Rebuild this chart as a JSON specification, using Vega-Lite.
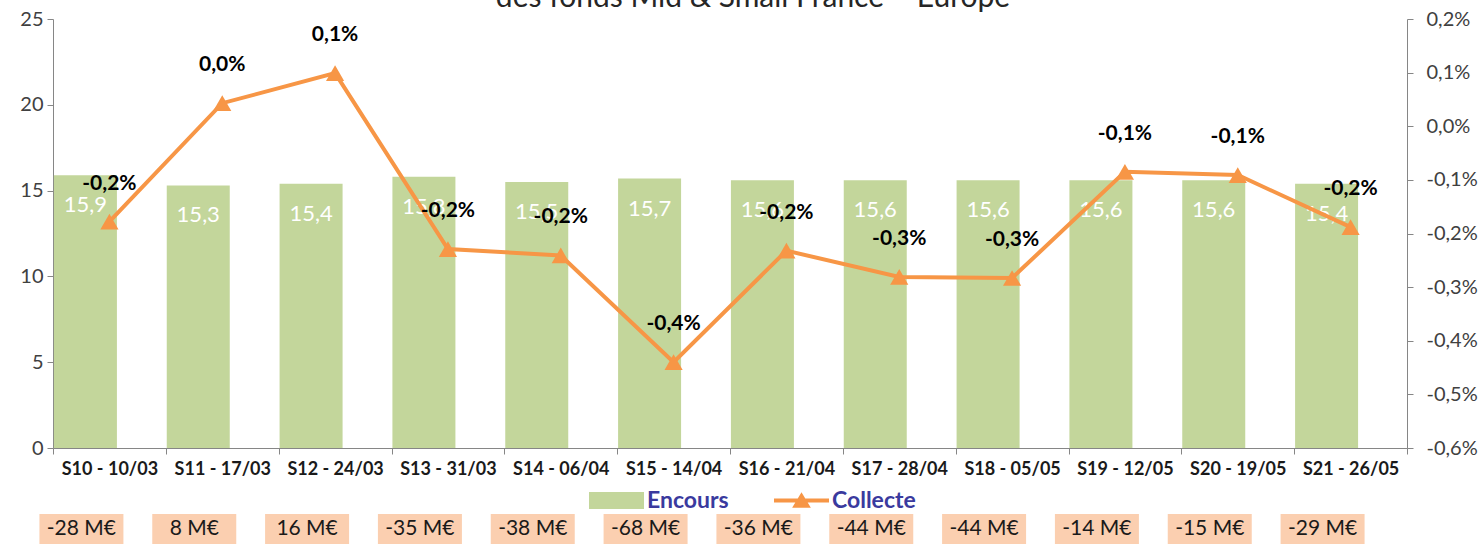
{
  "$schema": "https://vega.github.io/schema/vega-lite/v6.json",
  "autosize": {"type": "pad"},
  "padding": {"left": 19, "top": -17, "right": 0, "bottom": 0},
  "background": "white",
  "bounds": "flush",
  "spacing": 66,
  "config": {
    "locale": {"number": {"decimal": ",", "thousands": " ", "grouping": [3], "currency": ["", " €"], "minus": "-"}},
    "font": "Lato",
    "view": {"stroke": null},
    "axis": {"domainColor": "#868686", "tickColor": "#868686", "labelColor": "#404040", "grid": false, "title": null, "labelFont": "Lato"}
  },
  "title": {"text": "des fonds Mid & Small France – Europe", "frame": "group", "anchor": "middle", "baseline": "alphabetic", "offset": -28, "fontSize": 30, "fontWeight": "normal", "color": "#262626", "dx": 23, "font": "Lato"},
  "datasets": {
    "weeks": [
      {"week": "S10 - 10/03", "encours": 15.9, "collecte": -0.00178, "clab": "-0,2%", "flux": "-28 M€"},
      {"week": "S11 - 17/03", "encours": 15.3, "collecte": 0.00043, "clab": "0,0%", "flux": "8 M€"},
      {"week": "S12 - 24/03", "encours": 15.4, "collecte": 0.00099, "clab": "0,1%", "flux": "16 M€"},
      {"week": "S13 - 31/03", "encours": 15.8, "collecte": -0.00229, "clab": "-0,2%", "flux": "-35 M€"},
      {"week": "S14 - 06/04", "encours": 15.5, "collecte": -0.00241, "clab": "-0,2%", "flux": "-38 M€"},
      {"week": "S15 - 14/04", "encours": 15.7, "collecte": -0.0044, "clab": "-0,4%", "flux": "-68 M€"},
      {"week": "S16 - 21/04", "encours": 15.6, "collecte": -0.00232, "clab": "-0,2%", "flux": "-36 M€"},
      {"week": "S17 - 28/04", "encours": 15.6, "collecte": -0.00281, "clab": "-0,3%", "flux": "-44 M€"},
      {"week": "S18 - 05/05", "encours": 15.6, "collecte": -0.00283, "clab": "-0,3%", "flux": "-44 M€"},
      {"week": "S19 - 12/05", "encours": 15.6, "collecte": -0.00085, "clab": "-0,1%", "flux": "-14 M€"},
      {"week": "S20 - 19/05", "encours": 15.6, "collecte": -0.00091, "clab": "-0,1%", "flux": "-15 M€"},
      {"week": "S21 - 26/05", "encours": 15.4, "collecte": -0.00188, "clab": "-0,2%", "flux": "-29 M€"}
    ]
  },
  "vconcat": [
    {
      "width": 1354,
      "height": 429,
      "data": {"name": "weeks"},
      "resolve": {"scale": {"y": "independent"}},
      "layer": [
        {
          "layer": [
            {
              "mark": {"type": "bar", "width": 63, "xOffset": -24},
              "encoding": {
                "x": {"field": "week", "type": "nominal", "sort": null, "scale": {"paddingInner": 0, "paddingOuter": 0},
                  "axis": {"labelAngle": 0, "labelFontWeight": "bold", "labelFontSize": 18, "labelColor": "#1a1a1a", "tickBand": "extent", "tickSize": 6, "labelPadding": 6}},
                "y": {"field": "encours", "type": "quantitative", "scale": {"domain": [0, 25], "nice": false},
                  "axis": {"orient": "left", "values": [0, 5, 10, 15, 20, 25], "format": "d", "labelFontSize": 20, "tickSize": 6, "labelPadding": 4}},
                "color": {"datum": "Encours", "scale": {"range": ["#C3D69B"]},
                  "legend": {"orient": "none", "legendX": 536, "legendY": 454, "title": null, "symbolType": "M-1,-0.31H1V0.31H-1Z", "symbolSize": 3025, "symbolStrokeWidth": 0, "symbolOpacity": 1, "labelFontSize": 23, "labelFontWeight": "bold", "labelColor": "#3A3A9E", "labelOffset": 3, "padding": 0}}
              }
            },
            {
              "mark": {"type": "text", "color": "white", "fontSize": 22, "dy": 30, "xOffset": -24, "baseline": "middle"},
              "encoding": {
                "x": {"field": "week", "type": "nominal", "sort": null},
                "y": {"field": "encours", "type": "quantitative"},
                "text": {"field": "encours", "type": "quantitative", "format": ".1f"}
              }
            }
          ]
        },
        {
          "layer": [
            {
              "mark": {"type": "line", "color": "#F79646", "strokeWidth": 4},
              "encoding": {
                "x": {"field": "week", "type": "nominal", "sort": null},
                "y": {"field": "collecte", "type": "quantitative", "scale": {"domain": [-0.006, 0.002], "nice": false},
                  "axis": {"orient": "right", "values": [0.002, 0.001, 0, -0.001, -0.002, -0.003, -0.004, -0.005, -0.006], "format": ".1%", "labelFontSize": 20, "tickSize": 6, "labelPadding": 13}}
              }
            },
            {
              "mark": {"type": "point", "shape": "triangle-up", "filled": true, "size": 330, "opacity": 1},
              "encoding": {
                "x": {"field": "week", "type": "nominal", "sort": null},
                "y": {"field": "collecte", "type": "quantitative"},
                "fill": {"datum": "Collecte", "scale": {"range": ["#F79646"]},
                  "legend": {"orient": "none", "legendX": 721, "legendY": 454, "title": null, "symbolType": "M-1,-0.07H1V0.07H-1ZM-0.34,0.26L0,-0.3L0.34,0.26Z", "symbolSize": 3025, "symbolStrokeWidth": 0, "symbolOpacity": 1, "labelFontSize": 23, "labelFontWeight": "bold", "labelColor": "#3A3A9E", "labelOffset": 3, "padding": 0}}
              }
            },
            {
              "mark": {"type": "text", "color": "black", "fontSize": 21, "fontWeight": "bold", "dy": -38, "baseline": "middle"},
              "encoding": {
                "x": {"field": "week", "type": "nominal", "sort": null},
                "y": {"field": "collecte", "type": "quantitative"},
                "text": {"field": "clab", "type": "nominal"}
              }
            }
          ]
        }
      ]
    },
    {
      "width": 1354,
      "height": 30,
      "data": {"name": "weeks"},
      "layer": [
        {
          "mark": {"type": "bar", "color": "#FBCFB0", "width": 84, "xOffset": -28},
          "encoding": {
            "x": {"field": "week", "type": "nominal", "sort": null, "scale": {"paddingInner": 0, "paddingOuter": 0}, "axis": null}
          }
        },
        {
          "mark": {"type": "text", "color": "#1a1a1a", "fontSize": 21, "xOffset": -28, "baseline": "middle"},
          "encoding": {
            "x": {"field": "week", "type": "nominal", "sort": null},
            "text": {"field": "flux", "type": "nominal"}
          }
        }
      ]
    }
  ]
}
